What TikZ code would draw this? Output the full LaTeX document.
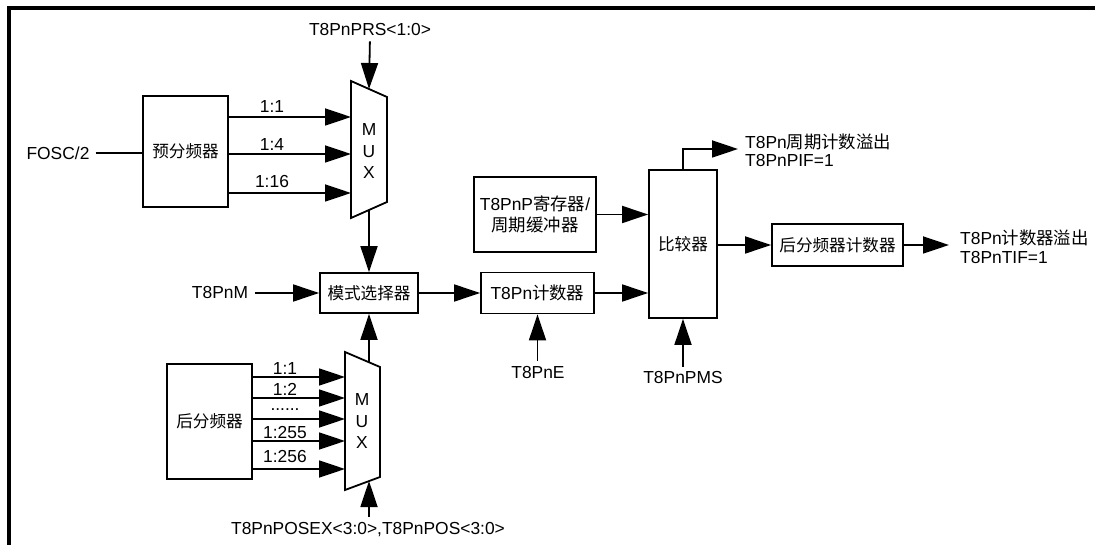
\documentclass[tikz,border=0pt]{standalone}
\usepackage{fontspec}
\setmainfont{Liberation Sans}
\newfontfamily\cjk{Noto Sans CJK SC}
\usetikzlibrary{arrows.meta}
\begin{document}
\begin{tikzpicture}[x=1pt,y=-1pt,
  every node/.style={font=\fontsize{17.4}{20}\selectfont, inner sep=0pt},
  box/.style={draw, line width=1.8pt, anchor=center},
  ln/.style={line width=1.8pt},
  arr/.style={line width=1.8pt, -{Triangle[length=26pt 0 0,width=17pt 0 0]}},
  cj/.style={font=\fontsize{16.6}{20}\selectfont\cjk},
  lbl/.style={anchor=center}]
\useasboundingbox (0,0) rectangle (1095,545);
\draw[line width=3.4pt] (9,546) -- (9,8) -- (1096,8);

% boxes
\node[box, cj, minimum width=85pt, minimum height=111pt] (pre) at (185.5,151.5) {预分频器};
\node[box, cj, minimum width=98pt, minimum height=40pt] (mode) at (369,293) {模式选择器};
\node[box, cj, minimum width=85pt, minimum height=115pt] (post) at (209.5,421.5) {后分频器};
\node[box, minimum width=122pt, minimum height=75pt, align=center] (reg) at (535,214.5)
  {T8PnP{\cjk 寄存器}/\\[1pt]{\cjk 周期缓冲器}};
\node[box, minimum width=113pt, minimum height=41pt] (cnt) at (537.5,293) {T8Pn{\cjk 计数器}};
\node[box, cj, minimum width=68pt, minimum height=148pt] (cmp) at (683,244) {比较器};
\node[box, cj, minimum width=131pt, minimum height=42pt] (pcnt) at (837.5,245) {后分频器计数器};

% MUX 1
\coordinate (m1tl) at (351,81);
\coordinate (m1tr) at (387,97);
\coordinate (m1br) at (387,202);
\coordinate (m1bl) at (351,218);
\draw[ln, line join=miter] (m1tl) -- (m1tr) -- (m1br) -- (m1bl) -- cycle;
\node (m1M) at (369,130) {M};
\node (m1U) at (369,152) {U};
\node (m1X) at (369,173) {X};
\coordinate (m1in) at (369,89);
\coordinate (m1out) at (369,210);

% MUX 2
\coordinate (m2tl) at (345,352);
\coordinate (m2tr) at (380,367);
\coordinate (m2br) at (380,477);
\coordinate (m2bl) at (345,490);
\draw[ln, line join=miter] (m2tl) -- (m2tr) -- (m2br) -- (m2bl) -- cycle;
\node (m2M) at (362,400) {M};
\node (m2U) at (362,422) {U};
\node (m2X) at (362,443) {X};
\coordinate (m2out) at (369,362);
\coordinate (m2in) at (369,481);

% labels
\node (fosc) at (58,153) {FOSC/2};
\node (prs) at (370,30) {T8PnPRS<1:0>};
\node (tm) at (220,293) {T8PnM};
\node (pos) at (368,530) {T8PnPOSEX<3:0>,T8PnPOS<3:0>};
\node (te) at (538,373) {T8PnE};
\node (pms) at (683,378) {T8PnPMS};
\node[anchor=west] (o1a) at (745,142) {T8Pn{\cjk 周期计数溢出}};
\node[anchor=west] (o1b) at (745,161) {T8PnPIF=1};
\node[anchor=west] (o2a) at (960,238) {T8Pn{\cjk 计数器溢出}};
\node[anchor=west] (o2b) at (960,258) {T8PnTIF=1};

% prescaler ratio labels
\node (r1) at (272,107) {1:1};
\node (r4) at (272,145) {1:4};
\node (r16) at (272,182) {1:16};
% postscaler ratio labels
\node (q1) at (285,369) {1:1};
\node (q2) at (285,389) {1:2};
\node (qd) at (285,410) {......};
\node (q255) at (285,433) {1:255};
\node (q256) at (285,457) {1:256};

% connectors
\draw[ln] (fosc.east) ++(6,0) coordinate (fs) (fs) -- (pre.west |- fs);
\draw[arr] (pre.east |- 0,117) -- (m1tl |- 0,117);
\draw[arr] (pre.east |- 0,154) -- (m1tl |- 0,154);
\draw[arr] (pre.east |- 0,193) -- (m1tl |- 0,193);
\draw[arr, shorten <=5pt] (prs.south) -- (m1in);
\draw[arr] (m1out) -- (mode.north);
\draw[arr, shorten <=7pt] (tm.east) -- (mode.west);
\draw[arr] (m2out) -- (mode.south);
\draw[arr] (post.east |- 0,377) -- (m2tl |- 0,377);
\draw[arr] (post.east |- 0,398) -- (m2tl |- 0,398);
\draw[arr] (post.east |- 0,419) -- (m2tl |- 0,419);
\draw[arr] (post.east |- 0,441) -- (m2tl |- 0,441);
\draw[arr] (post.east |- 0,469) -- (m2tl |- 0,469);
\draw[arr, shorten <=6pt] (pos.north -| m2in) -- (m2in);
\draw[arr] (mode.east) -- (cnt.west);
\draw[arr] (reg.east) -- (cmp.west |- reg.east);
\draw[arr] (cnt.east) -- (cmp.west |- cnt.east);
\draw[arr, shorten <=6pt] (te.north -| cnt.south) -- (cnt.south);
\draw[arr, shorten <=5pt] (pms.north) -- (cmp.south);
\coordinate (o1) at (738,149);
\draw[arr] (cmp.north) |- (o1);
\draw[arr] (cmp.east |- pcnt.west) -- (pcnt.west);
\coordinate (o2) at (949,245);
\draw[arr] (pcnt.east) -- (o2);
\end{tikzpicture}
\end{document}
